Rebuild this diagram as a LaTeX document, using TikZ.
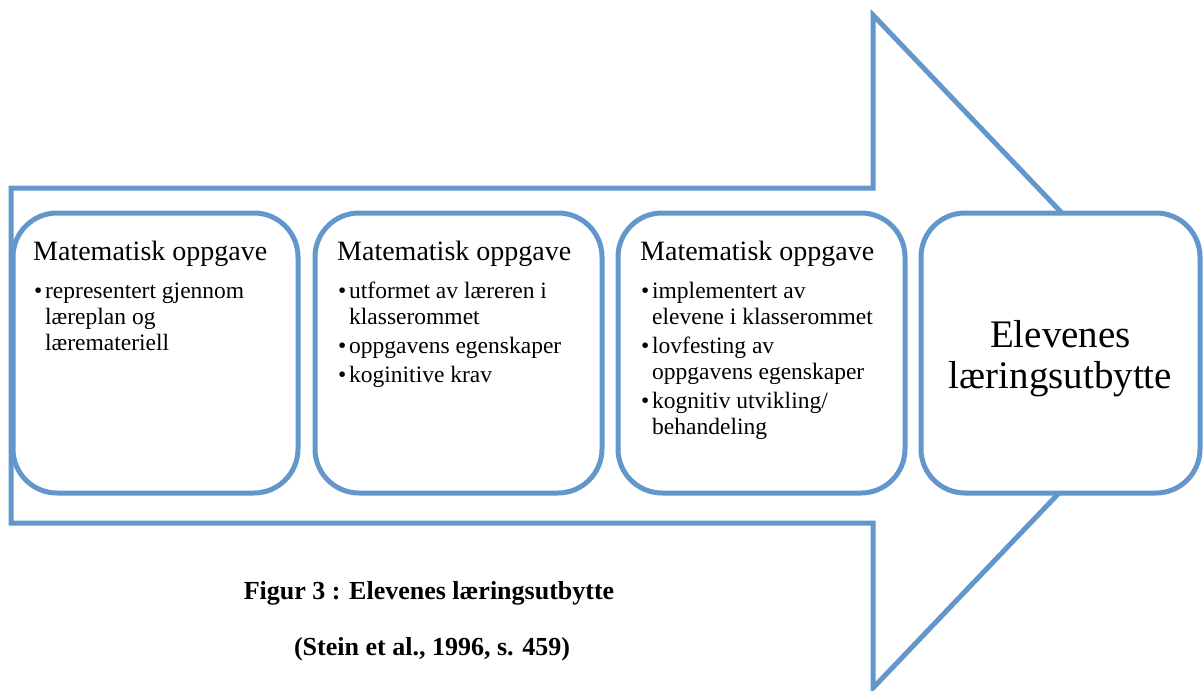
\documentclass[tikz,border=0pt]{standalone}
\usepackage{fontspec}
\setmainfont{Liberation Serif}
\definecolor{flowblue}{RGB}{99,151,204}

% one bulleted entry with a hanging indent (lines broken with \newline)
\newcommand\bulletline[1]{\par\hangindent=12pt\hangafter=1\noindent
  \makebox[12pt][l]{\hspace{1pt}\textbullet}#1\par}

\newcommand\stagetext[1]{\parbox[t]{262pt}{\raggedright
  \setlength{\parskip}{3pt}%
  \fontsize{28}{30}\selectfont Matematisk oppgave\par
  \fontsize{23.5}{26}\selectfont\vspace{9pt}#1}}

\begin{document}
\begin{tikzpicture}[x=1pt,y=-1pt,
  stagebox/.style={draw=flowblue, line width=5pt, fill=white, rounded corners=44pt,
    rectangle, inner sep=0pt, outer sep=0pt, minimum height=280pt},
  stagelabel/.style={anchor=base west, inner sep=0pt},
  captiontext/.style={anchor=base, inner sep=0pt, font=\fontsize{26}{28}\selectfont\bfseries}]
\useasboundingbox (0,0) rectangle (1203,691);

% large outlined arrow behind the stages
\begin{scope}
\clip (0,0) rectangle (1203,691);
\draw[flowblue, line width=5pt, line join=miter]
  (11,188) -- (873,188) -- (873,15) -- (1194,351.5) -- (873,688)
  -- (873,523) -- (11,523) -- cycle;
\end{scope}

% the four stages
\node[stagebox, minimum width=285pt] (b1) at (155.5,353) {};
\node[stagebox, minimum width=287pt] (b2) at (458.5,353) {};
\node[stagebox, minimum width=287pt] (b3) at (761.5,353) {};
\node[stagebox, minimum width=279pt] (b4) at (1060.5,353) {};

\node[stagelabel] (t1) at ([xshift=20pt,yshift=-47pt]b1.north west) {\stagetext{%
  \bulletline{representert gjennom\newline læreplan og\newline læremateriell}}};
\node[stagelabel] (t2) at ([xshift=22pt,yshift=-47pt]b2.north west) {\stagetext{%
  \bulletline{utformet av læreren i\newline klasserommet}
  \bulletline{oppgavens egenskaper}
  \bulletline{koginitive krav}}};
\node[stagelabel] (t3) at ([xshift=22pt,yshift=-47pt]b3.north west) {\stagetext{%
  \bulletline{implementert av\newline elevene i klasserommet}
  \bulletline{lovfesting av\newline oppgavens egenskaper}
  \bulletline{kognitiv utvikling/\newline behandeling}}};
\node[align=center, inner sep=0pt, font=\fontsize{39}{41}\selectfont] (t4)
  at ([yshift=-5.5pt]b4.center) {Elevenes\\læringsutbytte};

% caption
\node[captiontext] (c1) at (429,599) {Figur 3 : Elevenes læringsutbytte};
\node[captiontext] (c2) at (432,655) {(Stein et al., 1996, s. 459)};
\end{tikzpicture}
\end{document}
